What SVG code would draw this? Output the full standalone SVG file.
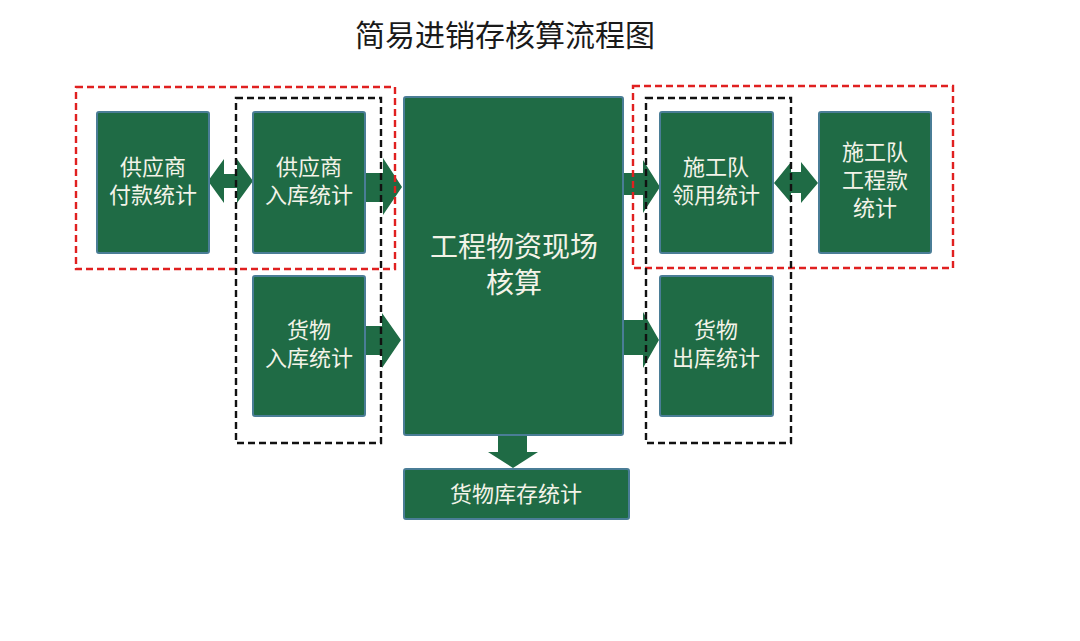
<svg xmlns="http://www.w3.org/2000/svg" width="1080" height="641" viewBox="0 0 1080 641">
<style>
.bg{fill:#ffffff}
.box{fill:#1f6b45;stroke:#4a7d96;stroke-width:2}
.arr{fill:#1f6b45}
.t{font-family:"Liberation Sans","Noto Sans CJK SC",sans-serif;fill:#f3f3e8;text-anchor:middle;font-size:22px}
.big{font-size:28px}
.title{font-family:"Liberation Sans","Noto Sans CJK SC",sans-serif;fill:#1a1a1a;text-anchor:middle;font-size:30px}
.red{fill:none;stroke:#e02020;stroke-width:2.4;stroke-dasharray:7 4}
.blk{fill:none;stroke:#111111;stroke-width:2.4;stroke-dasharray:7 4}
</style>
<rect class="bg" x="0" y="0" width="1080" height="641"/>
<text class="title" x="505" y="46">简易进销存核算流程图</text>

<g id="connectors">
  <polygon class="arr" points="208,181 224,159 224,174 237,174 237,159 253,181 237,203 237,188 224,188 224,203"/>
  <polygon class="arr" points="365,173 383,173 383,158 402,187 383,215 383,202 365,202"/>
  <polygon class="arr" points="365,326 382,326 382,313 401,340 382,368 382,355 365,355"/>
  <polygon class="arr" points="623,173 643,173 643,160 660,187 643,213 643,195 623,195"/>
  <polygon class="arr" points="623,320 643,320 643,312 659,340 643,368 643,355 623,355"/>
  <polygon class="arr" points="774,183 791,162 791,172 801,172 801,162 818,183 801,203 801,193 791,193 791,203"/>
  <polygon class="arr" points="498,436 527,436 527,452 538,452 513,468 488,452 498,452"/>
</g>

<g id="frames">
  <rect class="red" x="76" y="87" width="319" height="182"/>
  <rect class="red" x="633" y="86" width="320" height="182"/>
  <rect class="blk" x="236" y="98" width="145" height="345"/>
  <rect class="blk" x="646" y="98" width="145" height="345"/>
</g>

<g id="n_supplier_pay">
  <rect class="box" x="97" y="112" width="112" height="141" rx="2"/>
  <text class="t" x="153" y="175">供应商</text>
  <text class="t" x="153" y="203">付款统计</text>
</g>
<g id="n_supplier_in">
  <rect class="box" x="253" y="112" width="112" height="141" rx="2"/>
  <text class="t" x="309" y="175">供应商</text>
  <text class="t" x="309" y="203">入库统计</text>
</g>
<g id="n_goods_in">
  <rect class="box" x="253" y="276" width="112" height="140" rx="2"/>
  <text class="t" x="309" y="338">货物</text>
  <text class="t" x="309" y="366">入库统计</text>
</g>
<g id="n_center">
  <rect class="box" x="404" y="97" width="219" height="338" rx="2"/>
  <text class="t big" x="514" y="257">工程物资现场</text>
  <text class="t big" x="514" y="293">核算</text>
</g>
<g id="n_team_use">
  <rect class="box" x="660" y="112" width="113" height="141" rx="2"/>
  <text class="t" x="716" y="175">施工队</text>
  <text class="t" x="716" y="203">领用统计</text>
</g>
<g id="n_team_pay">
  <rect class="box" x="819" y="112" width="112" height="141" rx="2"/>
  <text class="t" x="875" y="160">施工队</text>
  <text class="t" x="875" y="188">工程款</text>
  <text class="t" x="875" y="216">统计</text>
</g>
<g id="n_goods_out">
  <rect class="box" x="660" y="276" width="113" height="140" rx="2"/>
  <text class="t" x="716" y="338">货物</text>
  <text class="t" x="716" y="366">出库统计</text>
</g>
<g id="n_stock">
  <rect class="box" x="404" y="469" width="225" height="50" rx="2"/>
  <text class="t" x="516" y="502">货物库存统计</text>
</g>
</svg>
